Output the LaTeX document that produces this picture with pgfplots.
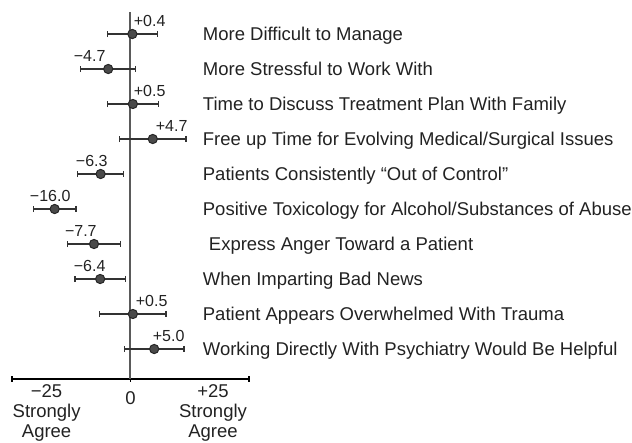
\documentclass[border=0pt]{standalone}
\usepackage{pgfplots}
\pgfplotsset{compat=1.18}
\usepackage{fontspec}
\setmainfont{Liberation Sans}
\usetikzlibrary{calc}
\definecolor{txt}{HTML}{222222}
\definecolor{vline}{HTML}{5A5A5A}
\definecolor{dotc}{HTML}{4A4A4A}
\definecolor{barc}{HTML}{333333}
\pgfplotstableread{
r v e
10 0.4 5.3
9 -4.7 5.8
8 0.5 5.4
7 4.7 7.0
6 -6.3 4.9
5 -16.0 4.5
4 -7.7 5.6
3 -6.4 5.3
2 0.5 7.0
1 5.0 6.3
}\datatab
\begin{document}
\begin{tikzpicture}
\begin{axis}[
 scale only axis, width=118.5pt, height=183.5pt,
 xmin=-25, xmax=25, ymin=0.143, ymax=10.629,
 axis x line=bottom, axis y line=none,
 x axis line style={-, line width=0.6pt, black},
 xtick={-25,0,25}, xticklabels={,,}, xtick align=center, major tick length=3pt,
 tick style={line width=0.6pt, black},
 ytick=\empty,
 clip=false,
 every node/.append style={text=txt},
]
\coordinate (O) at (axis cs:-25,0.143);
\addplot[vline, line width=1pt, forget plot] coordinates {(0,0.143) (0,10.629)};
\addplot[only marks, mark=*, mark size=2.3pt, mark options={fill=dotc, draw=black!85, line width=0.5pt},
  error bars/.cd, x dir=both, x explicit,
  error bar style={line width=0.6pt, barc},
  error mark options={rotate=90, mark size=1.6pt, line width=0.6pt, barc}]
  table[x=v, y=r, x error=e] {\datatab};
% value labels
\begin{scope}[every node/.style={font=\fontsize{8}{9}\selectfont, inner sep=0pt, anchor=base west, yshift=4pt, text=txt}]
\node at (axis cs:0.63,10) {+0.4};
\node at (axis cs:-12.03,9) {−4.7};
\node at (axis cs:0.63,8) {+0.5};
\node at (axis cs:5.27,7) {+4.7};
\node at (axis cs:-11.6,6) {−6.3};
\node at (axis cs:-21.3,5) {−16.0};
\node at (axis cs:-13.9,4) {−7.7};
\node at (axis cs:-12.03,3) {−6.4};
\node at (axis cs:1.05,2) {+0.5};
\node at (axis cs:4.64,1) {+5.0};
\end{scope}
% row labels
\begin{scope}[every node/.style={font=\fontsize{9.25}{11}\selectfont, inner sep=0pt, anchor=base west, yshift=-3.25pt, text=txt}]
\node at (axis cs:15.19,10) {More Difficult to Manage};
\node at (axis cs:15.19,9) {More Stressful to Work With};
\node at (axis cs:15.19,8) {Time to Discuss Treatment Plan With Family};
\node at (axis cs:15.19,7) {Free up Time for Evolving Medical/Surgical Issues};
\node at (axis cs:15.19,6) {Patients Consistently “Out of Control”};
\node at (axis cs:15.19,5) {Positive Toxicology for Alcohol/Substances of Abuse};
\node at (axis cs:16.46,4) {Express Anger Toward a Patient};
\node at (axis cs:15.19,3) {When Imparting Bad News};
\node at (axis cs:15.19,2) {Patient Appears Overwhelmed With Trauma};
\node at (axis cs:15.19,1) {Working Directly With Psychiatry Would Be Helpful};
\end{scope}
% bottom labels
\begin{scope}[every node/.style={font=\fontsize{9.25}{11}\selectfont, inner sep=0pt, anchor=base, text=txt}]
\node[yshift=-9.25pt] at (axis cs:-17.7,0.143) {−25};
\node[yshift=-19.5pt] at (axis cs:-17.7,0.143) {Strongly};
\node[yshift=-29.5pt] at (axis cs:-17.7,0.143) {Agree};
\node[yshift=-13pt] at (axis cs:0,0.143) {0};
\node[yshift=-9.25pt] at (axis cs:17.4,0.143) {+25};
\node[yshift=-19.5pt] at (axis cs:17.4,0.143) {Strongly};
\node[yshift=-29.5pt] at (axis cs:17.4,0.143) {Agree};
\end{scope}
\end{axis}
\pgfresetboundingbox
\path[use as bounding box] ($(O)+(-6pt,-32pt)$) rectangle ($(O)+(310pt,189.5pt)$);
\end{tikzpicture}
\end{document}
